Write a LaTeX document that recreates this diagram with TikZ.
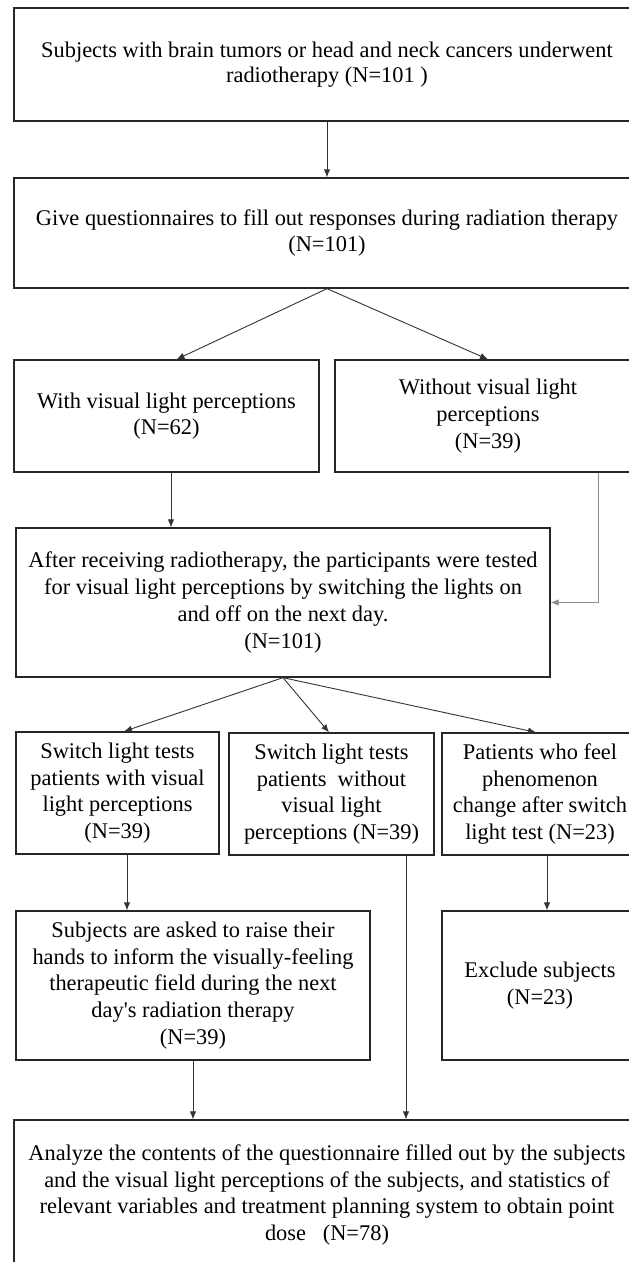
\documentclass[tikz,border=0pt]{standalone}
\usepackage{fontspec}
\setmainfont{Liberation Serif}
\usetikzlibrary{arrows.meta,calc}
\tikzset{
  box/.style={draw=black!85, line width=1.3pt, rectangle, inner sep=0pt, align=center,
    font=\fontsize{22.4}{26.7}\selectfont, text=black},
  conn/.style={draw=black!80, line width=0.9pt, -{Latex[length=8pt,width=6.5pt]}},
  gconn/.style={draw=black!45, line width=1pt, -{Latex[length=8pt,width=6.5pt]}}
}
\begin{document}
\begin{tikzpicture}[x=1pt,y=-1pt]
\useasboundingbox (0,0) rectangle (629,1262);
\clip (0,0) rectangle (629,1262);
\fill[white] (0,0) rectangle (629,1262);

\node[box, minimum width=626pt, minimum height=113pt, font=\fontsize{22.4}{23}\selectfont] (b1) at (327,64.5)
  {\raisebox{-4pt}{\shortstack{Subjects with brain tumors or head and neck cancers underwent\\[1pt] radiotherapy (N=101 )}}};
\node[box, minimum width=626pt, minimum height=110pt] (b2) at (327,233)
  {Give questionnaires to fill out responses during radiation therapy\\(N=101)};
\node[box, minimum width=305pt, minimum height=112pt] (b3) at (166.5,416)
  {With visual light perceptions\\(N=62)};
\node[box, minimum width=306pt, minimum height=112pt] (b4) at (488,416)
  {Without visual light\\perceptions\\(N=39)};
\node[box, minimum width=534pt, minimum height=149pt] (b5) at (283,602.5)
  {After receiving radiotherapy, the participants were tested\\for visual light perceptions by switching the lights on\\and off on the next day.\\(N=101)};
\node[box, minimum width=203pt, minimum height=122pt] (b6) at (117.5,793)
  {Switch light tests\\patients with visual\\light perceptions\\(N=39)};
\node[box, minimum width=205pt, minimum height=122pt] (b7) at (331.5,794)
  {Switch light tests\\patients\ \ without\\visual light\\perceptions (N=39)};
\node[box, minimum width=196pt, minimum height=122pt] (b8) at (540,794)
  {Patients who feel\\phenomenon\\change after switch\\light test (N=23)};
\node[box, minimum width=354pt, minimum height=149pt] (b9) at (193,985.5)
  {Subjects are asked to raise their\\hands to inform the visually-feeling\\therapeutic field during the next\\day\textquotesingle s radiation therapy\\(N=39)};
\node[box, minimum width=196pt, minimum height=149pt] (b10) at (540,985.5)
  {Exclude subjects\\(N=23)};
\node[box, minimum width=626pt, minimum height=150pt] (b11) at (327,1195)
  {Analyze the contents of the questionnaire filled out by the subjects\\and the visual light perceptions of the subjects, and statistics of\\relevant variables and treatment planning system to obtain point\\dose\ \ \ (N=78)};

% connector anchor points
\coordinate (g1) at ($(b4.south)+(110,0)$);
\coordinate (g2) at (g1 |- b5.east);
\coordinate (t3) at ($(b3.north)+(10,0)$);
\coordinate (s3) at ($(b3.south)+(4.5,0)$);
\coordinate (e5) at (s3 |- b5.north);
\coordinate (t6) at ($(b6.north)+(6.5,0)$);
\coordinate (t7) at ($(b7.north)+(-2.5,0)$);
\coordinate (t8) at ($(b8.north)+(-4,0)$);
\coordinate (s6) at ($(b6.south)+(9.5,0)$);
\coordinate (e9) at (s6 |- b9.north);
\coordinate (s8) at ($(b8.south)+(7,0)$);
\coordinate (e10) at (s8 |- b10.north);
\coordinate (s7) at ($(b7.south)+(74.5,0)$);
\coordinate (e11a) at (s7 |- b11.north);
\coordinate (e11b) at (b9.south |- b11.north);

\draw[conn] (b1.south) -- (b2.north);
\draw[conn] (b2.south) -- (t3);
\draw[conn] (b2.south) -- (b4.north);
\draw[conn] (s3) -- (e5);
\draw[gconn] (g1) -- (g2) -- (b5.east);
\draw[conn] (b5.south) -- (t6);
\draw[conn] (b5.south) -- (t7);
\draw[conn] (b5.south) -- (t8);
\draw[conn] (s6) -- (e9);
\draw[conn] (s8) -- (e10);
\draw[conn] (s7) -- (e11a);
\draw[conn] (b9.south) -- (e11b);
\end{tikzpicture}
\end{document}
